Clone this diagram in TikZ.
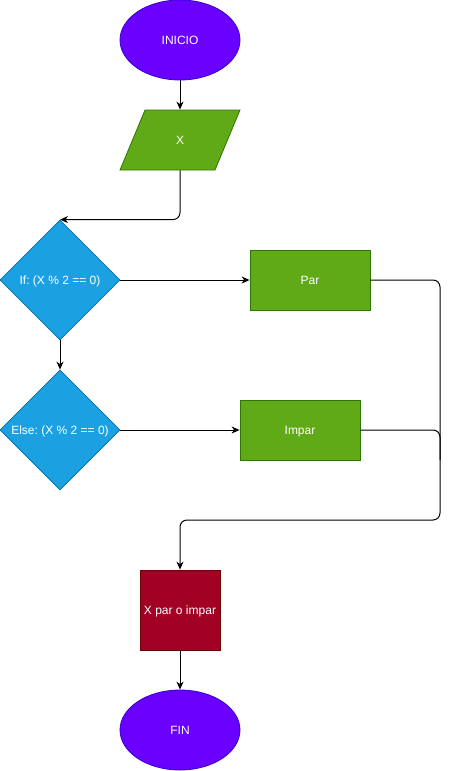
\documentclass[tikz,border=0pt]{standalone}
\usepackage{fontspec}
\setmainfont{Liberation Sans}
\frenchspacing
\usetikzlibrary{shapes.geometric,arrows.meta}
\definecolor{violetf}{HTML}{6A00FF}\definecolor{violetd}{HTML}{3700CC}
\definecolor{greenf}{HTML}{60A917}\definecolor{greend}{HTML}{2D7600}
\definecolor{bluef}{HTML}{1BA1E2}\definecolor{blued}{HTML}{006EAF}
\definecolor{redf}{HTML}{A20025}\definecolor{redd}{HTML}{6F0000}
\tikzset{
  every node/.style={font=\fontsize{12}{14}\selectfont, text=white, inner sep=0pt, text height=8.6pt, text depth=0pt},
  term/.style={ellipse, fill=violetf, draw=violetd, line width=0.8pt, minimum width=120pt, minimum height=80pt},
  io/.style={trapezium, trapezium left angle=71.57, trapezium right angle=108.43, trapezium stretches=true, fill=greenf, draw=greend, line width=0.8pt, minimum width=120pt, minimum height=60pt},
  dec/.style={diamond, fill=bluef, draw=blued, line width=0.8pt, minimum width=120pt, minimum height=120pt},
  proc/.style={rectangle, fill=greenf, draw=greend, line width=0.8pt, minimum width=120pt, minimum height=60pt},
  res/.style={rectangle, fill=redf, draw=redd, line width=0.8pt, minimum width=80pt, minimum height=80pt},
  conn/.style={draw=black, line width=1pt, rounded corners=7pt, -{Stealth[length=8pt,width=7pt,inset=2.5pt]}},
  line/.style={draw=black, line width=1pt, rounded corners=7pt}
}
\begin{document}
\begin{tikzpicture}[x=1pt,y=-1pt]
\useasboundingbox (0,0) rectangle (449,771);
\node[term] (ini) at (180,40) {INICIO};
\node[io] (x) at (180,140) {X};
\node[dec] (d1) at (60,280) {If: (X \% 2 == 0)};
\node[proc] (par) at (310,280) {Par};
\node[dec] (d2) at (60,430) {Else: (X \% 2 == 0)};
\node[proc] (imp) at (300,430) {Impar};
\node[res] (res) at (180,610) {X par o impar};
\node[term] (fin) at (180,730) {FIN};
\coordinate (ra) at (440,520);
\coordinate (rb) at (180,520);
\coordinate (rm) at (440,460);
\draw[conn] (ini) -- (x);
\draw[conn] (x.south) |- (d1.north);
\draw[conn] (d1) -- (par);
\draw[conn] (d1) -- (d2);
\draw[conn] (d2) -- (imp);
\draw[conn] (par.east) -| (ra) -- (rb) -- (res.north);
\draw[line] (imp.east) -| (rm);
\draw[conn] (res) -- (fin);
\end{tikzpicture}
\end{document}
